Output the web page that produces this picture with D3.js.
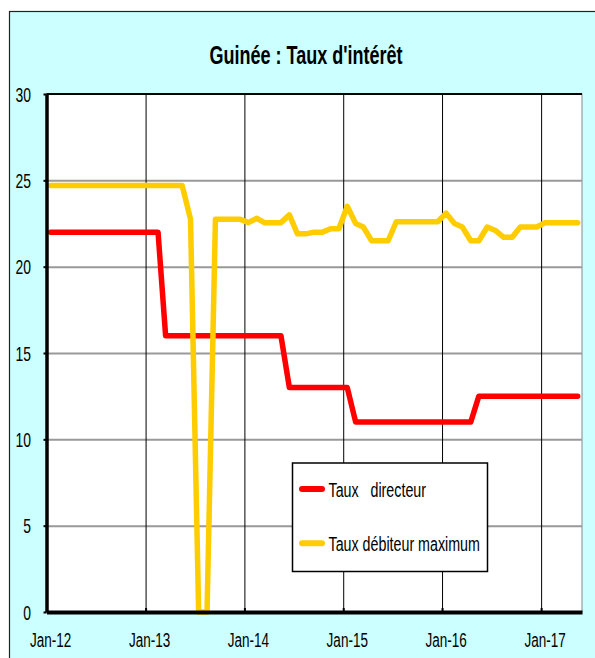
<!DOCTYPE html>
<html>
<head>
<meta charset="utf-8">
<script src="https://cdn.jsdelivr.net/npm/d3@7"></script>
<style>
  body { margin: 0; background: #fff; }
  svg { display: block; }
</style>
</head>
<body>
<svg id="chart" width="595" height="658"></svg>
<script>
// monthly data, Jan-12 .. May-17
const months = d3.timeMonth.range(new Date(2012, 0, 1), new Date(2017, 5, 1));

const tauxDirecteur = [
  22, 22, 22, 22, 22, 22, 22, 22, 22, 22, 22, 22,
  22, 22, 16, 16, 16, 16, 16, 16, 16, 16, 16, 16,
  16, 16, 16, 16, 16, 13, 13, 13, 13, 13, 13, 13,
  13, 11, 11, 11, 11, 11, 11, 11, 11, 11, 11, 11,
  11, 11, 11, 11, 12.5, 12.5, 12.5, 12.5, 12.5, 12.5, 12.5, 12.5,
  12.5, 12.5, 12.5, 12.5, 12.5
];

const tauxDebiteurMax = [
  24.7, 24.7, 24.7, 24.7, 24.7, 24.7, 24.7, 24.7, 24.7, 24.7, 24.7, 24.7,
  24.7, 24.7, 24.7, 24.7, 24.7, 22.75, 0, 0, 22.75, 22.75, 22.75, 22.75,
  22.55, 22.8, 22.55, 22.55, 22.55, 23.0, 21.9, 21.9, 22.0, 22.0, 22.2, 22.2,
  23.5, 22.5, 22.3, 21.5, 21.5, 21.5, 22.6, 22.6, 22.6, 22.6, 22.6, 22.6,
  23.1, 22.5, 22.3, 21.5, 21.5, 22.3, 22.1, 21.7, 21.7, 22.3, 22.3, 22.3,
  22.55, 22.55, 22.55, 22.55, 22.55
];

const yTicks = [0, 5, 10, 15, 20, 25, 30];
const yearTicks = [2012, 2013, 2014, 2015, 2016, 2017];

const series = [
  { name: "Taux   directeur", values: tauxDirecteur, color: "#ff0000" },
  { name: "Taux débiteur maximum", values: tauxDebiteurMax, color: "#ffcc00" }
];

const svg = d3.select("#chart");
const font = "'Liberation Sans', Arial, sans-serif";

// plot box
const plotLeft = 46.5, plotRight = 582, plotTop = 94, plotBottom = 612;

const x = d3.scaleTime()
  .domain([new Date(2012, 0, 1), new Date(2017, 5, 1)])
  .range([plotLeft, plotRight]);

const y = d3.scaleLinear()
  .domain([0, 30])
  .range([plotBottom, plotTop]);

// mid-month position for each point
const xMid = (d) => x(d3.timeDay.offset(d, 15));

// condensed-looking text: plain Arial metrics squeezed horizontally
const squeeze = (sel, px, py, sx, sy) =>
  sel.attr("transform", `translate(${px},${py}) scale(${sx},${sy})`);

// chart background
svg.append("rect")
  .attr("x", 9.5).attr("y", 11.5)
  .attr("width", 600).attr("height", 660)
  .attr("fill", "#ccffff")
  .attr("stroke", "#222")
  .attr("stroke-width", 1.2);

svg.append("rect")
  .attr("x", plotLeft).attr("y", plotTop)
  .attr("width", plotRight - plotLeft).attr("height", plotBottom - plotTop)
  .attr("fill", "#fff")
  .attr("stroke", "#888")
  .attr("stroke-width", 1);

// title
squeeze(svg.append("text"), 306, 63.5, 0.82, 1.16)
  .attr("text-anchor", "middle")
  .attr("font-family", font)
  .attr("font-weight", "bold")
  .attr("font-size", 22)
  .attr("fill", "#000")
  .text("Guinée : Taux d'intérêt");

// horizontal gridlines
svg.append("g")
  .attr("transform", `translate(${plotLeft},0)`)
  .call(d3.axisLeft(y).tickValues(yTicks.filter(v => v > 0 && v < 30)).tickSize(-(plotRight - plotLeft)).tickFormat(""))
  .call(g => g.select(".domain").remove())
  .selectAll("line")
  .attr("stroke", "#999")
  .attr("stroke-width", 2);

// vertical gridlines at each January
const yearDates = yearTicks.map(yr => new Date(yr, 0, 1));
svg.append("g")
  .attr("transform", `translate(0,${plotBottom})`)
  .call(d3.axisBottom(x).tickValues(yearDates.slice(1)).tickSize(-(plotBottom - plotTop)).tickFormat(""))
  .call(g => g.select(".domain").remove())
  .selectAll("line")
  .attr("stroke", "#000")
  .attr("stroke-width", 1);

// top border
svg.append("line")
  .attr("x1", plotLeft).attr("x2", plotRight)
  .attr("y1", plotTop).attr("y2", plotTop)
  .attr("stroke", "#000")
  .attr("stroke-width", 2.2);

// series lines
const line = d3.line()
  .x((d, i) => xMid(months[i]))
  .y(d => y(d));

svg.append("g")
  .selectAll("path")
  .data(series)
  .join("path")
  .attr("d", d => line(d.values))
  .attr("fill", "none")
  .attr("stroke", d => d.color)
  .attr("stroke-width", 5.5)
  .attr("stroke-linejoin", "round")
  .attr("stroke-linecap", "round");

// y axis
const yAxis = svg.append("g")
  .attr("transform", `translate(${plotLeft},0)`)
  .call(d3.axisLeft(y).tickValues(yTicks).tickSize(3).tickSizeOuter(0));
yAxis.select(".domain").attr("stroke", "#000").attr("stroke-width", 3.5);
yAxis.selectAll(".tick line").attr("stroke", "#000").attr("stroke-width", 2);
yAxis.selectAll(".tick text")
  .attr("x", null).attr("dy", null)
  .attr("text-anchor", "end")
  .attr("font-family", font)
  .attr("font-size", 17)
  .attr("fill", "#000")
  .each(function () { squeeze(d3.select(this), -15.5, 7.2, 0.82, 1.2); });

// x axis
const xAxis = svg.append("g")
  .attr("transform", `translate(0,${plotBottom})`)
  .call(d3.axisBottom(x).tickValues(yearDates.slice(1)).tickSize(-4).tickSizeOuter(0).tickFormat(""));
xAxis.select(".domain").attr("stroke", "#000").attr("stroke-width", 4);
xAxis.selectAll(".tick line").attr("stroke", "#000").attr("stroke-width", 2);

// x labels, centred on each January point
const fmt = d3.timeFormat("%b-%y");
svg.append("g")
  .selectAll("text")
  .data(yearDates)
  .join("text")
  .attr("text-anchor", "middle")
  .attr("font-family", font)
  .attr("font-size", 16.5)
  .attr("fill", "#000")
  .text(d => fmt(d))
  .each(function (d) { squeeze(d3.select(this), xMid(d), 647, 0.82, 1.25); });

// legend
const legend = svg.append("g");
legend.append("rect")
  .attr("x", 292.5).attr("y", 463)
  .attr("width", 195).attr("height", 108.5)
  .attr("fill", "#fff")
  .attr("stroke", "#000")
  .attr("stroke-width", 1.5);

const legendRows = legend.selectAll("g")
  .data(series)
  .join("g")
  .attr("transform", (d, i) => `translate(0,${489 + i * 54.3})`);

legendRows.append("line")
  .attr("x1", 302).attr("x2", 322)
  .attr("stroke", d => d.color)
  .attr("stroke-width", 6)
  .attr("stroke-linecap", "round");

legendRows.append("text")
  .attr("font-family", font)
  .attr("font-size", 17.4)
  .attr("fill", "#000")
  .style("white-space", "pre")
  .text(d => d.name)
  .each(function () { squeeze(d3.select(this), 328.5, 7.5, 0.82, 1.2); });
</script>
</body>
</html>
